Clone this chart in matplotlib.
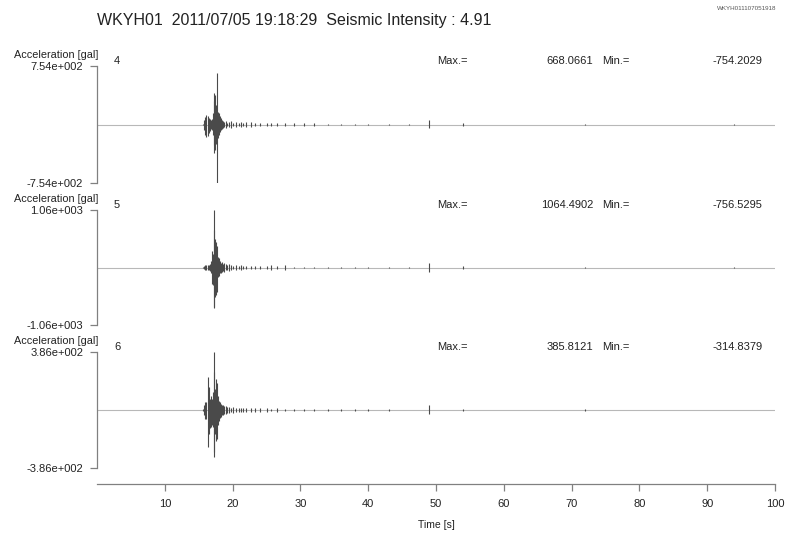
import numpy as np
import matplotlib
matplotlib.use("Agg")
import matplotlib.pyplot as plt

plt.rcParams['font.family'] = ['Liberation Sans', 'DejaVu Sans']

station = 'WKYH01'
date_str = '2011/07/05 19:18:29'
intensity = 4.91
file_id = 'WKYH011107051918'

channels = ['4', '5', '6']
scales = [754.2029, 1064.4902, 385.8121]
max_vals = ['668.0661', '1064.4902', '385.8121']
min_vals = ['-754.2029', '-756.5295', '-314.8379']
scale_labels = ['7.54e+002', '1.06e+003', '3.86e+002']

times = [15.7, 15.85, 16.0, 16.15, 16.3, 16.45, 16.6, 16.75, 16.9, 17.05,
         17.2, 17.3, 17.45, 17.6, 17.75, 17.9, 18.05, 18.2, 18.35, 18.5,
         18.65, 18.8, 19.0, 19.2, 19.4, 19.7, 20.0, 20.5, 21.0, 21.2,
         21.5, 22.0, 22.7, 23.3, 24.0, 25.0, 25.6, 26.5, 27.8, 29.0,
         30.5, 32.0, 34.0, 36.0, 38.0, 40.0, 43.0, 46.0, 49.0, 54.0,
         72.0, 94.0]

# envelope (upper / lower) in gal
hi4 = [5, 60, 100, 122, 110, 90, 70, 60, 70, 150,
       300, 400, 380, 250, 668, 160, 150, 110, 80, 55,
       40, 35, 45, 25, 30, 40, 22, 35, 20, 32,
       18, 28, 28, 25, 20, 22, 20, 18, 18, 15,
       15, 14, 12, 10, 10, 8, 6, 6, 55, 20,
       8, 6]
lo4 = [-5, -70, -130, -160, -150, -110, -80, -60, -70, -140,
       -260, -365, -330, -250, -754, -170, -140, -100, -75, -55,
       -40, -35, -45, -25, -30, -40, -22, -35, -20, -32,
       -18, -28, -28, -25, -20, -22, -20, -18, -18, -15,
       -15, -14, -12, -10, -10, -8, -6, -6, -50, -20,
       -8, -6]

hi5 = [3, 20, 40, 50, 45, 40, 60, 120, 310, 250,
       1064, 700, 520, 480, 400, 190, 170, 120, 90, 95,
       60, 80, 60, 45, 70, 40, 30, 40, 28, 38,
       25, 35, 30, 25, 22, 25, 40, 22, 38, 18,
       16, 12, 12, 10, 10, 8, 6, 6, 90, 25,
       8, 6]
lo5 = [-3, -25, -45, -55, -50, -40, -60, -110, -300, -320,
       -740, -756, -555, -500, -450, -185, -160, -110, -95, -90,
       -60, -85, -55, -45, -70, -40, -30, -40, -28, -38,
       -25, -35, -30, -25, -22, -25, -40, -22, -38, -18,
       -16, -12, -12, -10, -10, -8, -6, -6, -85, -25,
       -8, -6]

hi6 = [5, 30, 55, 50, 220, 150, 75, 90, 70, 120,
       386, 250, 140, 206, 180, 90, 60, 55, 40, 35,
       30, 25, 28, 18, 22, 15, 18, 14, 16, 12,
       14, 12, 12, 10, 12, 10, 9, 10, 8, 9,
       7, 6, 6, 5, 5, 4, 4, 3, 30, 8,
       4, 3]
lo6 = [-5, -35, -60, -60, -245, -160, -120, -110, -100, -110,
       -315, -280, -160, -206, -190, -100, -70, -55, -45, -35,
       -30, -25, -28, -18, -22, -15, -18, -14, -16, -12,
       -14, -12, -12, -10, -12, -10, -9, -10, -8, -9,
       -7, -6, -6, -5, -5, -4, -4, -3, -28, -8,
       -4, -3]

highs = [hi4, hi5, hi6]
lows = [lo4, lo5, lo6]

W, H = 787, 536
axis_col = '#808080'
text_col = '#222222'


def px_axes(fig, x0, y0, x1, y1):
    return fig.add_axes([x0 / W, 1 - y1 / H, (x1 - x0) / W, (y1 - y0) / H])


def main():
    fig = plt.figure(figsize=(W / 100, H / 100), dpi=100)

    fig.text(97 / W, 1 - 21 / H, f'{station}  {date_str}  Seismic Intensity : {intensity:.2f}',
             fontsize=11.5, color=text_col, ha='left', va='center')
    fig.text(776 / W, 1 - 9 / H, file_id, fontsize=4.5, color='#555555', ha='right', va='center')

    boxes = [(66, 183), (210, 325), (352, 468)]
    for i, (top, bot) in enumerate(boxes):
        ax = px_axes(fig, 97, top, 775, bot)
        s = scales[i]
        ax.set_xlim(0, 100)
        ax.set_ylim(-s, s)
        ax.axhline(0, color='#b8b8b8', lw=0.8, zorder=1)
        ax.vlines(times, lows[i], highs[i], color='#4a4a4a', lw=0.8, zorder=2)

        for side in ['top', 'right', 'bottom']:
            ax.spines[side].set_visible(False)
        ax.spines['left'].set_color(axis_col)
        ax.spines['left'].set_linewidth(0.9)
        ax.set_yticks([-s, s])
        ax.set_yticklabels(['-' + scale_labels[i], scale_labels[i]])
        ax.tick_params(axis='y', length=5, width=0.9, color=axis_col, labelsize=8,
                       labelcolor=text_col, pad=5)
        ax.set_xticks([])

        tr = ax.get_xaxis_transform()
        h = bot - top
        ax.text(0.2, 1 + 11.5 / h, 'Acceleration [gal]', transform=tr, ha='right', va='center',
                fontsize=7.8, color=text_col, clip_on=False)
        yt = 1 + 5.5 / h
        ax.text(2.5, yt, channels[i], transform=tr, ha='left', va='center', fontsize=8, color=text_col)
        ax.text(50.2, yt, 'Max.=', transform=tr, ha='left', va='center', fontsize=8, color=text_col)
        ax.text(73.2, yt, max_vals[i], transform=tr, ha='right', va='center', fontsize=8, color=text_col)
        ax.text(74.5, yt, 'Min.=', transform=tr, ha='left', va='center', fontsize=8, color=text_col)
        ax.text(98.2, yt, min_vals[i], transform=tr, ha='right', va='center', fontsize=8, color=text_col)

    # time axis
    tax = px_axes(fig, 97, 470, 775, 484)
    tax.set_xlim(0, 100)
    tax.set_yticks([])
    tax.patch.set_visible(False)
    for side in ['top', 'right', 'left']:
        tax.spines[side].set_visible(False)
    tax.spines['bottom'].set_color(axis_col)
    tax.spines['bottom'].set_linewidth(0.9)
    tax.set_xticks(np.arange(10, 101, 10))
    tax.tick_params(axis='x', length=5, width=0.9, color=axis_col, labelsize=8,
                    labelcolor=text_col, pad=6)
    tax.set_xlabel('Time [s]', fontsize=7.5, color=text_col, labelpad=8)

    fig.savefig('out.png', dpi=100)


if __name__ == '__main__':
    main()
